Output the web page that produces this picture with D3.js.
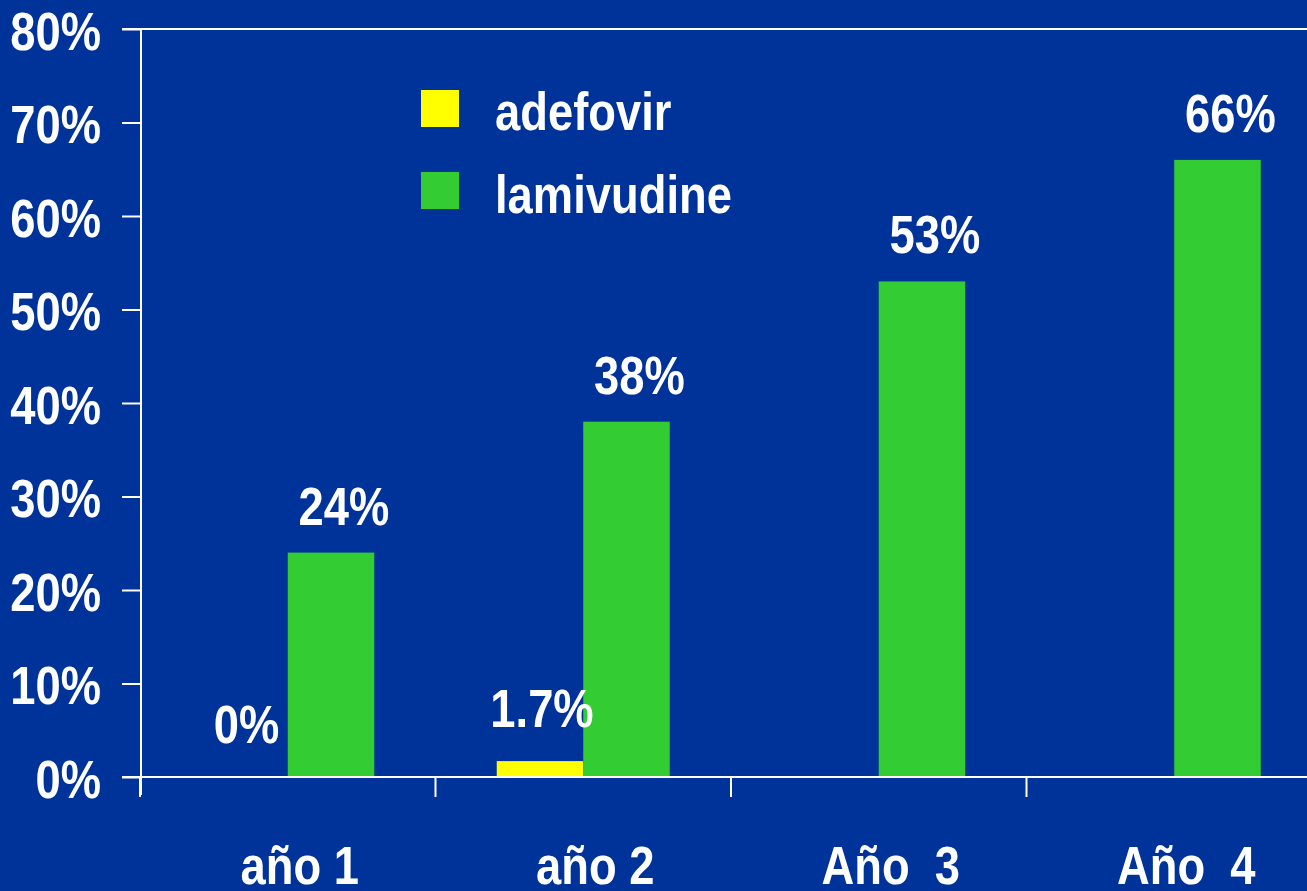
<!DOCTYPE html>
<html>
<head>
<meta charset="utf-8">
<script src="https://cdn.jsdelivr.net/npm/d3@7"></script>
<style>
  html, body { margin: 0; padding: 0; background: #003399; }
  svg { display: block; }
  text { font-family: "Liberation Sans Narrow", "Arial Narrow", "Liberation Sans", Arial, sans-serif; font-weight: bold; fill: #fff; }
</style>
</head>
<body>
<div id="chart"></div>
<script>
const years = ['año 1', 'año 2', 'Año  3', 'Año  4'];
const series = ['adefovir', 'lamivudine'];
const adefovir = [0, 1.7, null, null];
const lamivudine = [24, 38, 53, 66];
const yTicks = [0, 10, 20, 30, 40, 50, 60, 70, 80];

const colours = {adefovir: '#ffff00', lamivudine: '#33cc33'};

const width = 1307;
const height = 891;
const leftX = 141;
const topY = 29;
const zeroY = 777;
const squeeze = 0.84;

// the slide font is a narrow bold sans, so squeeze the text sideways
function narrow(sel) {
     sel.each(function() {
          const t = d3.select(this);
          const x = +t.attr('x') || 0;
          const y = +t.attr('y') || 0;
          t.attr('transform', `translate(${x},${y}) scale(${squeeze},1)`)
           .attr('x', 0)
           .attr('y', 0);
     });
}

window.onload = function() {

     var svg = d3.select('#chart')
          .append('svg')
               .attr('width', width)
               .attr('height', height);

     svg.append('rect')
          .attr('width', width)
          .attr('height', height)
          .attr('fill', '#003399');

     const xScale = d3.scaleBand()
          .domain(years)
          .range([leftX - 1, leftX - 1 + 4 * 295.5]);

     const xInner = d3.scaleBand()
          .domain(series)
          .range([0, xScale.bandwidth()])
          .paddingInner(0)
          .paddingOuter(0.708);

     const yScale = d3.scaleLinear()
          .domain([0, 80])
          .range([zeroY, topY]);

     // top frame line
     svg.append('line')
          .attr('x1', 122).attr('x2', width)
          .attr('y1', yScale(80)).attr('y2', yScale(80))
          .attr('stroke', '#fff').attr('stroke-width', 2);

     // y-axis
     let yAxis = svg.append('g')
          .attr('transform', `translate(${leftX}, 0)`)
          .call(d3.axisLeft(yScale).tickValues(yTicks).tickFormat(d => d + '%').tickSize(19).tickPadding(21));
     yAxis.attr('font-family', null).attr('font-size', null);
     yAxis.select('.domain').attr('stroke', '#fff').attr('stroke-width', 2).attr('d', `M0,${topY}V${zeroY + 18}`);
     yAxis.selectAll('.tick line').attr('stroke', '#fff').attr('stroke-width', 2);
     yAxis.selectAll('.tick text')
          .attr('fill', '#fff')
          .attr('font-size', 54)
          .attr('y', 20)
          .attr('dy', null)
          .call(narrow);

     // bars
     let rows = [];
     years.forEach((yr, i) => {
          if (adefovir[i] !== null) rows.push({year: yr, s: 'adefovir', v: adefovir[i]});
          rows.push({year: yr, s: 'lamivudine', v: lamivudine[i]});
     });

     svg.selectAll('rect.bar')
          .data(rows)
          .enter()
               .append('rect')
                    .attr('class', 'bar')
                    .attr('x', d => xScale(d.year) + xInner(d.s))
                    .attr('y', d => yScale(d.v))
                    .attr('width', xInner.bandwidth())
                    .attr('height', d => zeroY - yScale(d.v))
                    .attr('fill', d => colours[d.s]);

     // value labels
     svg.selectAll('text.val')
          .data(rows)
          .enter()
               .append('text')
                    .attr('class', 'val')
                    .attr('x', d => xScale(d.year) + xInner(d.s) + xInner.bandwidth() / 2 + (d.s === 'lamivudine' ? 13 : 2))
                    .attr('y', d => yScale(d.v) - (d.s === 'lamivudine' ? 28 : 34))
                    .attr('text-anchor', 'middle')
                    .attr('font-size', 54)
                    .text(d => d.v + '%')
                    .call(narrow);

     // x-axis
     let xAxis = svg.append('g')
          .attr('transform', `translate(0, ${zeroY})`)
          .call(d3.axisBottom(xScale).tickSize(0).tickPadding(0));
     xAxis.select('.domain').remove();
     xAxis.selectAll('.tick').remove();
     xAxis.append('line')
          .attr('x1', 122).attr('x2', width)
          .attr('stroke', '#fff').attr('stroke-width', 2);
     xAxis.selectAll('line.sep')
          .data(years)
          .enter()
               .append('line')
                    .attr('class', 'sep')
                    .attr('x1', d => xScale(d)).attr('x2', d => xScale(d))
                    .attr('y1', 0).attr('y2', 20)
                    .attr('stroke', '#fff').attr('stroke-width', 2);

     svg.selectAll('text.cat')
          .data(years)
          .enter()
               .append('text')
                    .attr('class', 'cat')
                    .attr('x', d => xScale(d) + xScale.bandwidth() / 2 + 12)
                    .attr('y', 884)
                    .attr('text-anchor', 'middle')
                    .attr('font-size', 54)
                    .style('white-space', 'pre')
                    .text(d => d)
                    .call(narrow);

     // legend
     let legend = svg.append('g');
     series.forEach((s, i) => {
          legend.append('rect')
               .attr('x', 421)
               .attr('y', 90 + i * 82)
               .attr('width', 38)
               .attr('height', 37)
               .attr('fill', colours[s]);
          legend.append('text')
               .attr('x', 495)
               .attr('y', 130 + i * 83)
               .attr('font-size', 54)
               .text(s)
               .call(narrow);
     });
};
</script>
</body>
</html>
